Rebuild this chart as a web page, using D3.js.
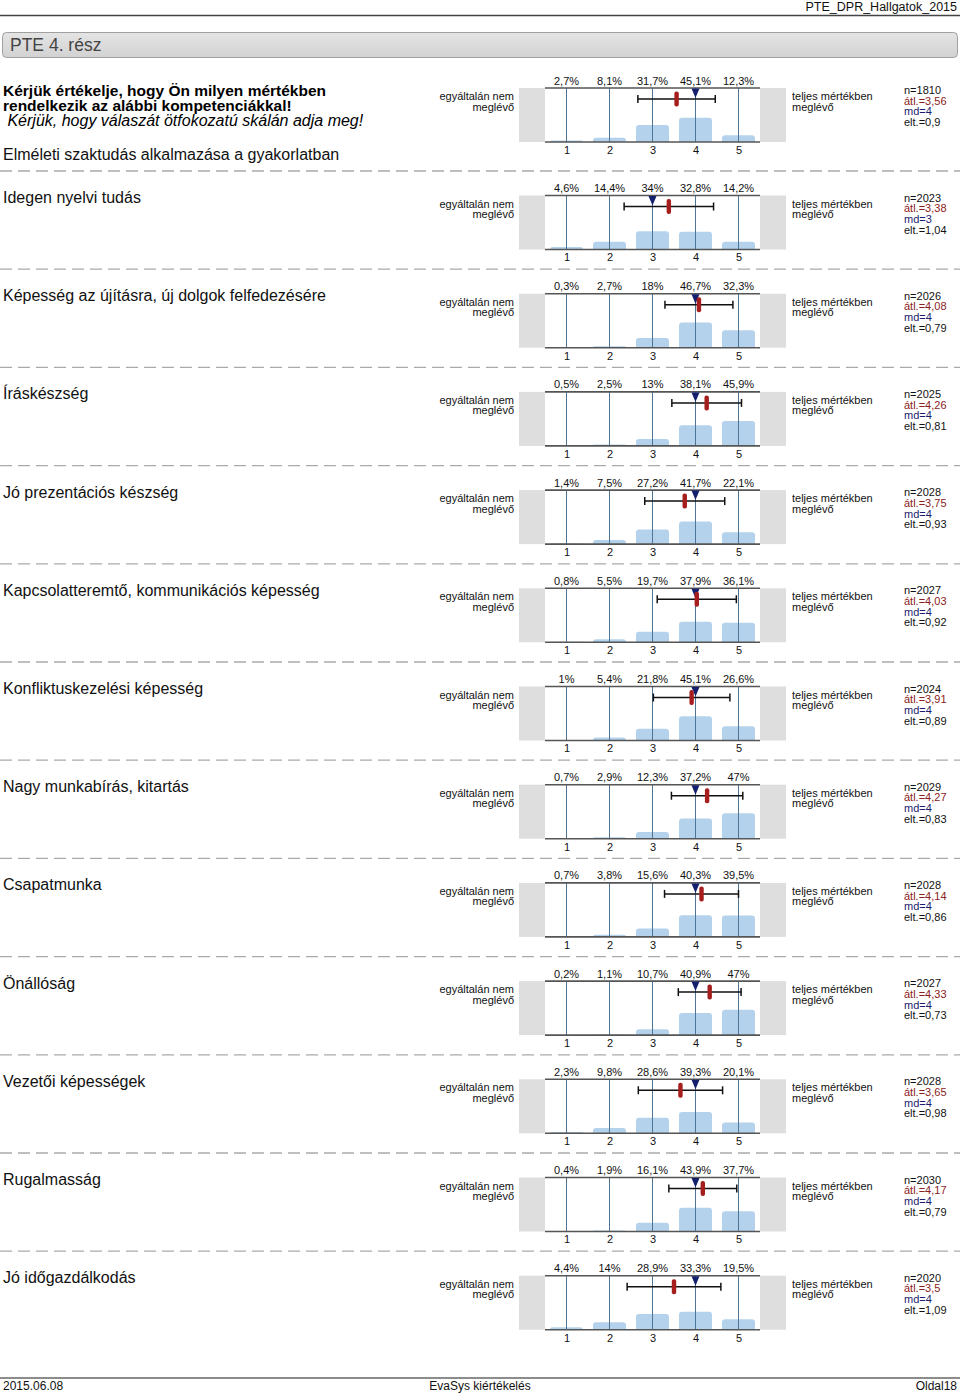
<!DOCTYPE html>
<html><head><meta charset="utf-8">
<script src="https://cdn.jsdelivr.net/npm/d3@7"></script>
<style>
html,body{margin:0;padding:0;background:#fff;}
svg{display:block;font-family:"Liberation Sans",Arial,sans-serif;}
</style></head><body>
<svg id="c" width="960" height="1395"></svg>
<script>
const titles = [
 "Elméleti szaktudás alkalmazása a gyakorlatban",
 "Idegen nyelvi tudás",
 "Képesség az újításra, új dolgok felfedezésére",
 "Íráskészség",
 "Jó prezentációs készség",
 "Kapcsolatteremtő, kommunikációs képesség",
 "Konfliktuskezelési képesség",
 "Nagy munkabírás, kitartás",
 "Csapatmunka",
 "Önállóság",
 "Vezetői képességek",
 "Rugalmasság",
 "Jó időgazdálkodás"
];
const percents = [
 [2.7, 8.1, 31.7, 45.1, 12.3],
 [4.6, 14.4, 34, 32.8, 14.2],
 [0.3, 2.7, 18, 46.7, 32.3],
 [0.5, 2.5, 13, 38.1, 45.9],
 [1.4, 7.5, 27.2, 41.7, 22.1],
 [0.8, 5.5, 19.7, 37.9, 36.1],
 [1, 5.4, 21.8, 45.1, 26.6],
 [0.7, 2.9, 12.3, 37.2, 47],
 [0.7, 3.8, 15.6, 40.3, 39.5],
 [0.2, 1.1, 10.7, 40.9, 47],
 [2.3, 9.8, 28.6, 39.3, 20.1],
 [0.4, 1.9, 16.1, 43.9, 37.7],
 [4.4, 14, 28.9, 33.3, 19.5]
];
const nValues = [1810, 2023, 2026, 2025, 2028, 2027, 2024, 2029, 2028, 2027, 2028, 2030, 2020];
const means   = [3.56, 3.38, 4.08, 4.26, 3.75, 4.03, 3.91, 4.27, 4.14, 4.33, 3.65, 4.17, 3.5];
const medians = [4, 3, 4, 4, 4, 4, 4, 4, 4, 4, 4, 4, 4];
const sds     = [0.9, 1.04, 0.79, 0.81, 0.93, 0.92, 0.89, 0.83, 0.86, 0.73, 0.98, 0.79, 1.09];
const scaleValues = [1, 2, 3, 4, 5];
const leftLabel = ["egyáltalán nem", "meglévő"];
const rightLabel = ["teljes mértékben", "meglévő"];

const svg = d3.select("#c");
const comma = v => String(v).replace(".", ",");

// header
svg.append("text").attr("x",957).attr("y",11).attr("text-anchor","end")
  .attr("font-size",12.5).attr("fill","#111").text("PTE_DPR_Hallgatok_2015");
svg.append("line").attr("x1",0).attr("x2",960).attr("y1",15.5).attr("y2",15.5)
  .attr("stroke","#444").attr("stroke-width",1.5);

const defs = svg.append("defs");
const lg = defs.append("linearGradient").attr("id","hg").attr("x1",0).attr("y1",0).attr("x2",0).attr("y2",1);
lg.append("stop").attr("offset","0%").attr("stop-color","#e4e4e4");
lg.append("stop").attr("offset","100%").attr("stop-color","#d2d2d2");
svg.append("rect").attr("x",2.5).attr("y",32.5).attr("width",955).attr("height",25).attr("rx",4)
  .attr("fill","url(#hg)").attr("stroke","#a0a0a0");
svg.append("text").attr("x",10).attr("y",51).attr("font-size",17.5).attr("fill","#444").text("PTE 4. rész");

// question
svg.append("text").attr("x",3).attr("y",96).attr("font-size",15.5).attr("font-weight","bold")
  .text("Kérjük értékelje, hogy Ön milyen mértékben");
svg.append("text").attr("x",3).attr("y",111).attr("font-size",15.5).attr("font-weight","bold")
  .text("rendelkezik az alábbi kompetenciákkal!");
svg.append("text").attr("x",3).attr("y",126).attr("font-size",16).attr("font-style","italic")
  .text("\u00a0Kérjük, hogy válaszát ötfokozatú skálán adja meg!");

const plotL = 545, plotR = 760, plotH = 54;
const xBand = d3.scaleBand().domain(scaleValues).range([plotL, plotR]);
const xVal = d3.scaleLinear().domain([1,5]).range([plotL + xBand.bandwidth()/2, plotR - xBand.bandwidth()/2]);

titles.forEach((title, i) => {
  const top = i === 0 ? 88 : 195.5 + (i-1)*98.2;
  const bottom = top + plotH;
  const y = d3.scaleLinear().domain([0,100]).range([bottom, top]);
  const g = svg.append("g");

  // title
  g.append("text").attr("x",3).attr("y", i === 0 ? 159.5 : top + 7.5).attr("font-size",16)
    .attr("fill","#111").text(title);

  // separator (above row i>0)
  if (i > 0) {
    g.append("line").attr("x1",0).attr("x2",960).attr("y1",top-24.5).attr("y2",top-24.5)
      .attr("stroke","#aaa").attr("stroke-width",1.3).attr("stroke-dasharray","12,6");
  }

  // side gray boxes
  g.append("rect").attr("x",519).attr("y",top).attr("width",plotL-519).attr("height",plotH).attr("fill","#dedede");
  g.append("rect").attr("x",plotR).attr("y",top).attr("width",26).attr("height",plotH).attr("fill","#dedede");
  g.append("rect").attr("x",plotL).attr("y",top).attr("width",plotR-plotL).attr("height",plotH).attr("fill","#fff");

  // bars
  const bw = 33;
  g.selectAll("path.bar").data(percents[i]).join("path").attr("class","bar")
    .attr("fill","#b5d2ec")
    .attr("d",(d,j) => {
      const cx = xBand(scaleValues[j]) + xBand.bandwidth()/2;
      const x0 = cx - bw/2, x1 = cx + bw/2;
      const yt = y(d), h = bottom - yt;
      const r = Math.min(3, h);
      return `M${x0},${bottom}V${yt+r}Q${x0},${yt} ${x0+r},${yt}H${x1-r}Q${x1},${yt} ${x1},${yt+r}V${bottom}Z`;
    });

  // vertical lines
  g.selectAll("line.v").data(scaleValues).join("line").attr("class","v")
    .attr("x1",d=>xVal(d)).attr("x2",d=>xVal(d)).attr("y1",top).attr("y2",bottom)
    .attr("stroke","#4f7596").attr("stroke-width",1);

  // top/bottom lines
  g.append("line").attr("x1",plotL).attr("x2",plotR).attr("y1",top).attr("y2",top).attr("stroke","#555").attr("stroke-width",1.6);
  g.append("line").attr("x1",plotL).attr("x2",plotR).attr("y1",bottom).attr("y2",bottom).attr("stroke","#555").attr("stroke-width",1.6);

  // percent labels
  g.selectAll("text.p").data(percents[i]).join("text").attr("class","p")
    .attr("x",(d,j)=>xVal(scaleValues[j])).attr("y",top-3.5).attr("text-anchor","middle")
    .attr("font-size",11).attr("fill","#111").text(d=>comma(d)+"%");

  // axis tick labels
  const ax = d3.axisBottom(xVal).tickValues(scaleValues).tickSize(0).tickPadding(0).tickFormat(d3.format("d"));
  const axg = g.append("g").attr("transform",`translate(0,${bottom+4})`).call(ax);
  axg.select(".domain").remove();
  axg.selectAll("text").attr("font-size",11).attr("fill","#111").attr("font-family","'Liberation Sans',Arial,sans-serif");

  // error bar
  const ey = top + 11;
  const m = means[i], s = sds[i];
  const ex0 = xVal(m - s), ex1 = xVal(m + s);
  g.append("line").attr("x1",ex0).attr("x2",ex1).attr("y1",ey).attr("y2",ey).attr("stroke","#111").attr("stroke-width",1.5);
  [ex0, ex1].forEach(x => g.append("line").attr("x1",x).attr("x2",x).attr("y1",ey-4).attr("y2",ey+4).attr("stroke","#111").attr("stroke-width",1.5));

  // median triangle
  const mx = xVal(medians[i]);
  g.append("path").attr("d",`M${mx-4},${top+0.5}L${mx+4},${top+0.5}L${mx},${top+10}Z`).attr("fill","#14206e");

  // mean marker
  g.append("rect").attr("x",xVal(m)-2.2).attr("y",ey-7.5).attr("width",4.4).attr("height",15).attr("rx",2)
    .attr("fill","#a51d1d");

  // side labels
  g.append("text").attr("x",514).attr("y",top+12).attr("text-anchor","end").attr("font-size",11).attr("fill","#111").text(leftLabel[0]);
  g.append("text").attr("x",514).attr("y",top+22.5).attr("text-anchor","end").attr("font-size",11).attr("fill","#111").text(leftLabel[1]);
  g.append("text").attr("x",792).attr("y",top+12).attr("font-size",11).attr("fill","#111").text(rightLabel[0]);
  g.append("text").attr("x",792).attr("y",top+22.5).attr("font-size",11).attr("fill","#111").text(rightLabel[1]);

  // stats
  const sx = 904;
  const st = [
    ["n="+nValues[i], "#111"],
    ["átl.="+comma(means[i]), "#8a2222"],
    ["md="+medians[i], "#1c1c6e"],
    ["elt.="+comma(sds[i]), "#111"]
  ];
  st.forEach((d,k) => g.append("text").attr("x",sx).attr("y",top+6+k*10.7).attr("font-size",11).attr("fill",d[1]).text(d[0]));
});

// footer
svg.append("line").attr("x1",0).attr("x2",960).attr("y1",1378).attr("y2",1378).attr("stroke","#666").attr("stroke-width",1.5);
svg.append("text").attr("x",3).attr("y",1390).attr("font-size",12).attr("fill","#111").text("2015.06.08");
svg.append("text").attr("x",480).attr("y",1390).attr("text-anchor","middle").attr("font-size",12).attr("fill","#111").text("EvaSys kiértékelés");
svg.append("text").attr("x",957).attr("y",1390).attr("text-anchor","end").attr("font-size",12).attr("fill","#111").text("Oldal18");
</script>
</body></html>
